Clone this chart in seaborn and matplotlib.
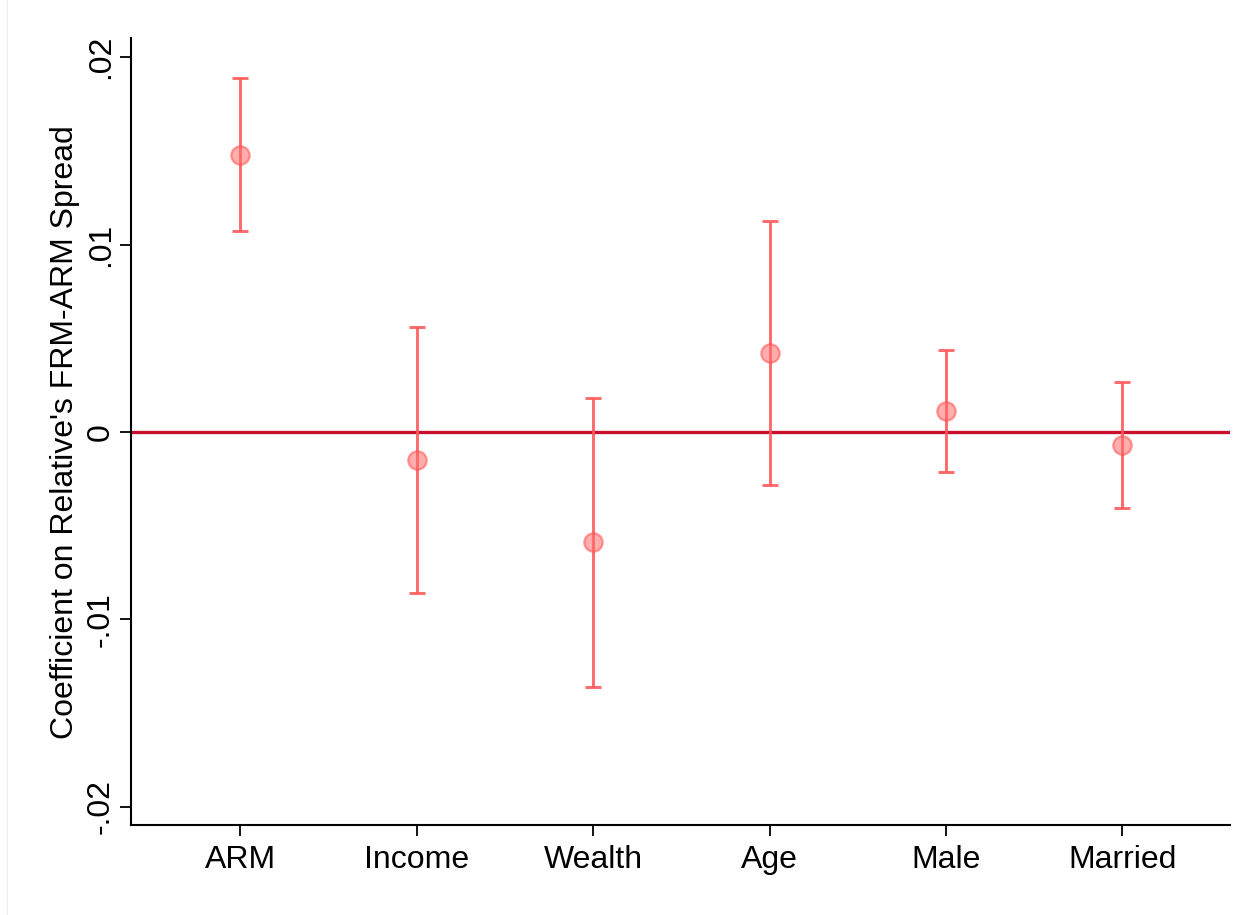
import seaborn as sns
import matplotlib.pyplot as plt
import pandas as pd
from matplotlib.lines import Line2D

# coefficients and 95% CI
variables = ["ARM", "Income", "Wealth", "Age", "Male", "Married"]
coef = [0.01477, -0.00149, -0.00587, 0.00421, 0.00112, -0.00069]
ci_low = [0.01072, -0.00859, -0.0136, -0.00283, -0.00213, -0.00405]
ci_high = [0.01888, 0.0056, 0.00181, 0.01125, 0.00437, 0.00267]

df = pd.DataFrame({"var": variables, "coef": coef, "lo": ci_low, "hi": ci_high})
df["pos"] = range(len(df))

sns.set_style("white")
plt.rcParams["font.family"] = ["Liberation Sans", "DejaVu Sans"]
plt.rcParams["text.color"] = "black"
plt.rcParams["axes.labelcolor"] = "black"
plt.rcParams["xtick.color"] = "black"
plt.rcParams["ytick.color"] = "black"

fig = plt.figure(figsize=(12.59, 9.15), dpi=100)
ax = fig.add_axes([0.104, 0.098, 0.873, 0.86])

# faint frame line at the left edge
fig.add_artist(Line2D([0.0056, 0.0056], [0, 1], transform=fig.transFigure,
                      color="#eeeeee", lw=1))

red = "#ff5a5a"
ax.axhline(0, color="#c8102e", lw=2.4, zorder=1)
ax.errorbar(df["pos"], df["coef"],
            yerr=[df["coef"] - df["lo"], df["hi"] - df["coef"]],
            fmt="none", ecolor=red, elinewidth=2.1, capsize=6, capthick=2.1,
            alpha=0.9, zorder=2)
sns.scatterplot(data=df, x="pos", y="coef", ax=ax, s=175, color="#ff6b6b",
                alpha=0.55, edgecolor="#ff5050", linewidth=1.6, zorder=3)

ax.set_xlim(-0.62, 5.61)
ax.set_ylim(-0.021, 0.021)
ax.set_xticks(df["pos"])
ax.set_xticklabels(variables)
ax.set_yticks([-0.02, -0.01, 0, 0.01, 0.02])
ax.set_yticklabels(["-.02", "-.01", "0", ".01", ".02"], rotation=90, va="center")
ax.set_xlabel("")
ax.set_ylabel("Coefficient on Relative's FRM-ARM Spread", fontsize=23, labelpad=4)
ax.tick_params(axis="both", labelsize=23, length=8, width=1.3, color="black",
               labelcolor="black", direction="out", left=True, bottom=True)
ax.tick_params(axis="y", pad=3)
ax.tick_params(axis="x", pad=6)

for s in ["top", "right"]:
    ax.spines[s].set_visible(False)
for s in ["left", "bottom"]:
    ax.spines[s].set_color("black")
    ax.spines[s].set_linewidth(1.5)

fig.savefig("out.png", dpi=100)
